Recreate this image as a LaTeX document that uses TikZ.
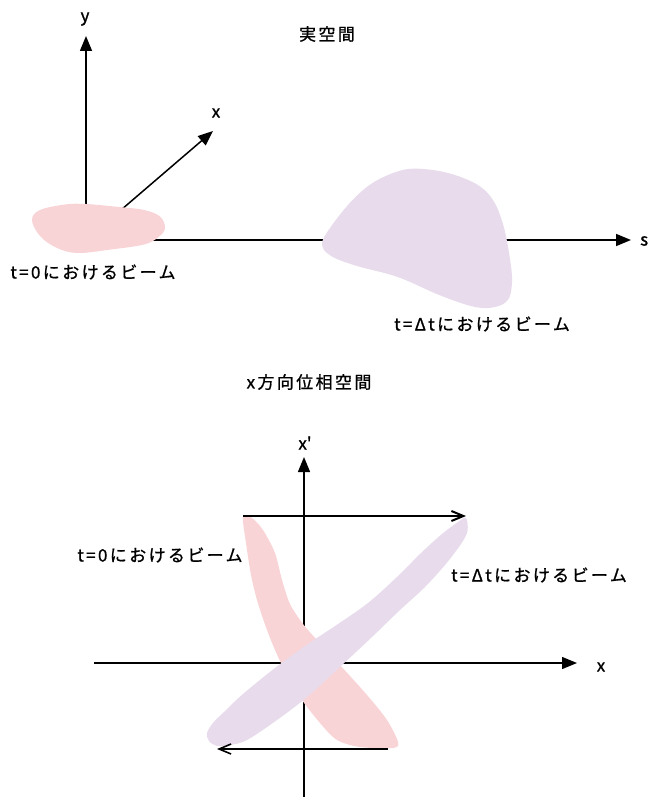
\documentclass[tikz,border=0pt]{standalone}
\usepackage{fontspec}
\setmainfont{Noto Sans CJK JP}[LetterSpace=14,FakeBold=1]
\usetikzlibrary{arrows.meta}
\definecolor{beampink}{RGB}{249,212,215}
\definecolor{beampurple}{RGB}{231,219,236}
\tikzset{
  axis/.style={line width=1.5pt,-{Triangle[length=15pt,width=12pt]}},
  thinaxis/.style={line width=1.3pt,-{Triangle[length=15pt,width=12pt]}},
  flowarrow/.style={line width=2pt,-{Straight Barb[length=12pt,width=10pt]}},
  lbl/.style={font=\fontsize{17}{20}\selectfont,inner sep=0pt},
  axlbl/.style={font=\fontsize{17}{20}\selectfont,inner sep=0pt},
}
\begin{document}
\begin{tikzpicture}[x=1pt,y=-1pt]
\useasboundingbox (0,0) rectangle (650,797);
% ---------- real space ----------
\coordinate (O1) at (86,240);
\coordinate (Ytip) at (86,36);
\coordinate (Stip) at (631,240);
\coordinate (Xtip) at (213,131);
\draw[axis] (O1) -- (Ytip);
\draw[axis] (O1) -- (Stip);
\draw[axis] (O1) -- (Xtip);
\fill[beampink] plot[smooth cycle,tension=0.6] coordinates {
 (32,220) (40,210) (65,204.5) (86,204) (119,207) (144,210) (160,216.5)
 (165,228) (158.6,237) (144,244.5) (111,249.5) (78,253) (57,248) (40,236)};
\fill[beampurple] plot[smooth cycle,tension=0.6] coordinates {
 (322,244) (331,226.6) (352,200.6) (373,182.7) (398,171.3) (418,168.7)
 (447.6,172.9) (476.7,184.3) (493.3,200.6) (503.7,226.6) (510,259.2)
 (512,282) (508,299.9) (493.3,307.4) (472.5,306.4) (439.2,295) (397.7,277)
 (356,265.7) (331,255.9)};
\node[lbl] (t1) at (327,34) {実空間};
\node[axlbl] (ly) at (85,19) {y};
\node[axlbl] (lx) at (216,113) {x};
\node[axlbl,anchor=west] (ls) at (640,241) {s};
\node[lbl] (b0top) at (93,272) {t=0におけるビーム};
\node[lbl] (bdtop) at (482,324) {t=Δtにおけるビーム};
% ---------- phase space ----------
\node[lbl] (t2) at (309,382) {x方向位相空間};
\coordinate (Xs) at (94,663);
\coordinate (Xe) at (577,663);
\coordinate (Ps) at (304,797);
\coordinate (Pe) at (304,457);
\draw[thinaxis] (Xs) -- (Xe);
\draw[thinaxis] (Ps) -- (Pe);
\fill[beampink] plot[smooth cycle,tension=0.5] coordinates {
 (243,517) (252,518) (263,530) (275,553) (282,580) (290,604) (303,624)
 (317,640) (340,665) (367,695) (387,720) (398,742) (393,748) (360,747)
 (337,740) (320,723) (300,697) (280,661) (267,630) (257,600) (251,575) (246,543)};
\fill[beampurple] plot[smooth cycle,tension=0.55] coordinates {
 (466,518) (467.5,531) (461,544) (445,565) (424,588) (400,610) (372,637)
 (342,665) (307,697) (277,720) (247,740) (230,745) (217,746)
 (209,741) (207,733) (213,723) (224,712) (243,694) (275,668) (308,644)
 (338,624) (368,603) (397,577) (421,553) (442,534) (458,522)};
\coordinate (A1s) at (243,516);
\coordinate (A1e) at (466,516);
\coordinate (A2s) at (388,749);
\coordinate (A2e) at (217,749);
\draw[flowarrow] (A1s) -- (A1e);
\draw[flowarrow,line width=1.6pt] (A2s) -- (A2e);
\node[axlbl] (lxp) at (305,443) {x\textquotesingle};
\node[axlbl] (lx2) at (601,667) {x};
\node[lbl] (b0bot) at (160,555) {t=0におけるビーム};
\node[lbl] (bdbot) at (539,575) {t=Δtにおけるビーム};
\end{tikzpicture}
\end{document}
